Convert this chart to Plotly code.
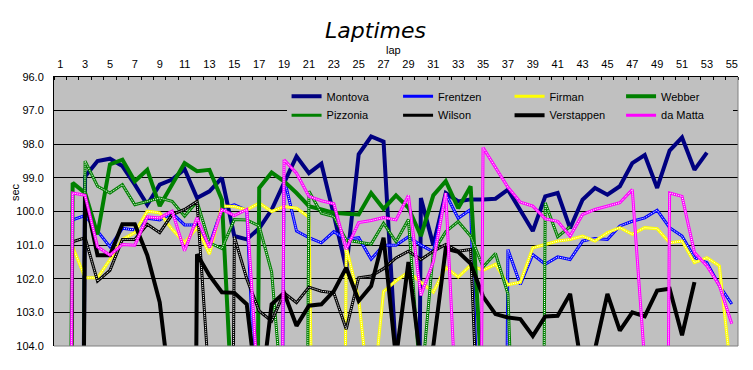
import plotly.graph_objects as go

laps = list(range(1, 56))
x_tick_labels = [str(i) for i in range(1, 56, 2)]

montoya = [150, 150, 98.96, 98.5, 98.43, 98.65, 99.2, 99.8, 99.2, 99.05,
           98.74, 99.6, 99.4, 99.0, 100.73, 100.83, 100.5, 99.95, 99.15, 98.36,
           98.86, 98.58, 100.1, 101.7, 98.3, 97.77, 97.92, 104.3, 150, 99.6,
           101.0, 99.45, 99.7, 99.64, 99.64, 99.62, 99.35, 99.97, 100.58, 99.55,
           99.45, 100.5, 99.65, 99.3, 99.5, 99.25, 98.56, 98.32, 99.3, 98.19,
           97.8, 98.76, 98.25, None, None]
frentzen = [150, 100.25, 100.12, 100.6, 101.05, 100.5, 100.55, 100.2, 100.25, 100.05,
            100.4, 100.4, 101.0, 99.9, 99.8, 99.96, 108, 150, 99.0, 100.58,
            100.78, 100.93, 100.6, 100.83, 100.78, 101.42, 101.0, 101.0, 100.75, 101.0,
            101.2, 99.48, 100.2, 99.94, 110, 150, 101.13, 102.17, 101.28, 101.57,
            101.35, 101.43, 100.88, 100.8, 100.83, 100.43, 100.29, 100.19, 99.96, 100.48,
            100.73, 101.37, 101.52, 102.2, 102.75]
firman = [150, 101.05, 101.97, 101.97, 101.43, 100.83, 100.63, 99.99, 100.04, 100.53,
          100.93, 100.48, 101.27, 99.84, 99.85, 99.95, 99.75, 100.0, 99.85, 99.9,
          100.17, 110, 150, 101.05, 102.6, 106, 102.38, 102.06, 101.8, 102.1,
          102.4, 101.66, 101.95, 101.6, 101.75, 101.57, 102.18, 102.1, 101.08, 100.98,
          100.88, 100.83, 100.73, 100.88, 100.63, 100.48, 100.68, 100.48, 100.51, 100.93,
          100.88, 101.52, 101.37, 101.62, 105.0]
webber = [150, 99.15, 99.45, 100.68, 98.6, 98.46, 99.1, 98.76, 99.84, 99.2,
          98.56, 98.8, 98.76, 99.65, 107, 150, 99.3, 98.84, 99.1, 99.45,
          99.84, 99.94, 100.04, 100.07, 100.09, 99.45, 99.92, 99.52, 99.89, 100.73,
          99.52, 99.1, 99.9, 99.25, 105.6, None, None, None, None, None,
          None, None, None, None, None, None, None, None, None, None,
          None, None, None, None, None]
pizzonia = [150, 150, 98.5, 99.25, 99.45, 99.2, 99.8, 99.7, 99.6, 99.7,
            100.14, 99.7, 100.93, 101.1, 100.24, 100.25, 100.43, 101.8, 106.2, 150,
            99.4, 100.05, 100.15, 100.85, 100.9, 100.97, 100.35, 100.9, 100.24, 105.3,
            101.2, 100.6, 100.3, 100.73, 101.65, 101.25, 102.45, 113, 150, 99.74,
            100.75, 100.45, None, None, None, None, None, None, None, None,
            None, None, None, None, None]
wilson = [150, 100.9, 100.78, 102.07, 101.75, 100.83, 100.83, 100.38, 100.63, 100.09,
          99.94, 99.7, 105.2, 150, 100.75, 102.0, 102.96, 103.26, 102.42, 102.71,
          102.25, 102.37, 102.42, 103.5, 101.97, 101.92, 101.7, 101.38, 101.18, 101.43,
          101.18, 100.98, 101.18, 101.13, 110, None, None, None, None, None,
          None, None, None, None, None, None, None, None, None, None,
          None, None, None, None, None]
verstappen = [150, 150, 99.55, 101.3, 101.3, 100.38, 100.38, 101.3, 102.7, 105.8,
              150, 101.27, 101.9, 102.4, 102.42, 102.76, 105.85, 102.76, 102.42, 103.4,
              102.8, 102.76, 102.37, 101.67, 102.66, 102.22, 100.78, 104.36, 101.5, 104.5,
              104.0, 101.1, 101.2, 101.55, 102.53, 103.05, 103.15, 103.2, 103.7, 103.12,
              103.1, 102.45, 104.8, 104.1, 102.45, 103.54, 103.0, 103.12, 102.35, 102.3,
              103.68, 102.1, None, None, None]
da_matta = [150, 99.45, 99.52, 101.05, 101.3, 100.98, 101.0, 100.16, 100.19, 99.99,
            101.17, 100.19, 101.07, 99.94, 100.12, 99.94, 105.74, 150, 98.46, 98.86,
            99.55, 99.68, 99.77, 101.12, 100.33, 100.27, 100.18, 100.25, 99.52, 102.5,
            101.5, 99.45, 107, 150, 98.1, 98.7, 99.28, 99.72, 99.84, 100.22,
            100.29, 100.73, 100.09, 99.94, 99.84, 99.74, 99.35, 104.5, 150, 99.45,
            99.55, 101.22, 101.62, 102.2, 103.34]

series = [
    ("Montoya", montoya, "#000080", False, "legend"),
    ("Frentzen", frentzen, "#0000FF", True, "legend"),
    ("Firman", firman, "#FFFF00", True, "legend"),
    ("Webber", webber, "#008000", False, "legend"),
    ("Pizzonia", pizzonia, "#008000", True, "legend2"),
    ("Wilson", wilson, "#000000", True, "legend2"),
    ("Verstappen", verstappen, "#000000", False, "legend2"),
    ("da Matta", da_matta, "#FF00FF", True, "legend2"),
]

fig = go.Figure()
for name, vals, color, dotted, leg in series:
    fig.add_trace(go.Scatter(
        x=laps, y=vals, name=name, mode="lines", legend=leg,
        line=dict(color=color, width=3 if dotted else 4),
        connectgaps=False, hoverinfo="skip"))
    if dotted:
        fig.add_trace(go.Scatter(
            x=laps, y=vals, mode="lines", showlegend=False, legend=leg,
            line=dict(color="white", width=1, dash="1px,1px"),
            connectgaps=False, hoverinfo="skip"))

font = dict(family="Liberation Sans, Arial, sans-serif", size=11, color="black")

# The page body has an 8px margin, so the figure is sized 8px smaller
fig.update_layout(
    width=745, height=362,
    margin=dict(l=46, r=15, t=69, b=24, pad=0, autoexpand=False),
    paper_bgcolor="white", plot_bgcolor="#C0C0C0",
    font=font,
    title=dict(text="Laptimes", xref="container", x=0.4933, xanchor="center",
               yref="container", y=0.939, yanchor="middle", automargin=False,
               font=dict(family="DejaVu Sans", size=22, style="italic", color="black")),
    xaxis=dict(range=[0.5, 55.5], side="top", tickmode="array", automargin=False,
               tickvals=list(range(1, 56, 2)), ticktext=x_tick_labels,
               ticks="outside", ticklen=4, tickcolor="rgba(0,0,0,0)",
               showline=True, linecolor="black", linewidth=1,
               showgrid=False, zeroline=False, tickfont=font,
               minor=dict(tick0=0.5, dtick=1, ticks="inside", ticklen=3,
                          tickcolor="black", tickwidth=1, showgrid=False)),
    yaxis=dict(range=[104, 96], tick0=96, dtick=1, tickformat=".1f", automargin=False,
               showgrid=True, gridcolor="black", gridwidth=1,
               showline=True, linecolor="black", linewidth=1,
               ticks="outside", ticklen=7, tickcolor="rgba(0,0,0,0)",
               zeroline=False, tickfont=font),
    legend=dict(orientation="h", x=0.34, xanchor="left", y=0.982, yanchor="top",
                bgcolor="#C0C0C0", borderwidth=0, entrywidth=66.5,
                entrywidthmode="pixels", font=font, traceorder="normal"),
    legend2=dict(orientation="h", x=0.34, xanchor="left", y=0.912, yanchor="top",
                 bgcolor="#C0C0C0", borderwidth=0, entrywidth=66.5,
                 entrywidthmode="pixels", font=font, traceorder="normal"),
    shapes=[
        dict(type="line", xref="paper", yref="paper", x0=1, x1=1, y0=0, y1=1,
             line=dict(color="#808080", width=1), layer="above"),
        dict(type="line", xref="paper", yref="paper", x0=0, x1=1, y0=0, y1=0,
             line=dict(color="#808080", width=1), layer="above"),
    ],
    annotations=[
        dict(text="lap", xref="paper", yref="paper", x=0.497, y=1.1, showarrow=False,
             xanchor="center", yanchor="middle", font=font),
        dict(text="sec", xref="paper", yref="paper", x=-0.057, y=0.5725, showarrow=False,
             textangle=-90, xanchor="center", yanchor="middle", font=font),
    ],
)

fig.write_html("out.html")
